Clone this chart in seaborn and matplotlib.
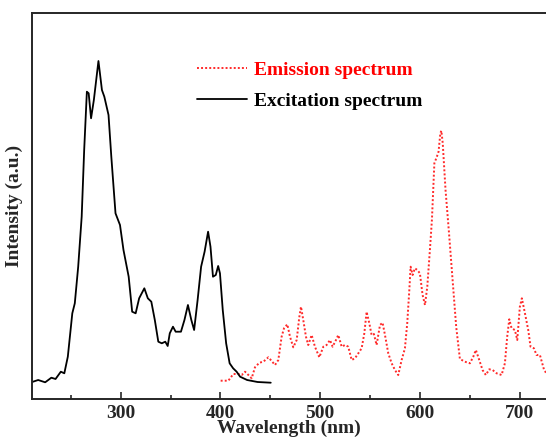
import numpy as np
import pandas as pd
import matplotlib
matplotlib.use("Agg")
import matplotlib.pyplot as plt
import seaborn as sns

sns.set_style("ticks")
plt.rcParams['font.family'] = ['Liberation Serif', 'DejaVu Serif']
plt.rcParams['font.weight'] = 'bold'

# Excitation spectrum (black, solid)
exc_wl = [210.3, 217.3, 224.3, 230.5, 234.7, 240.0, 243.5, 247.0, 251.5, 254.0,
          257.4, 260.9, 263.4, 266.1, 267.9, 270.3, 273.1, 277.7, 281.2, 283.6,
          287.8, 290.6, 294.8, 299.3, 302.8, 308.0, 311.5, 315.0, 318.5, 323.7,
          327.2, 330.7, 334.2, 337.7, 341.2, 344.7, 347.1, 349.2, 352.4, 355.1,
          360.4, 363.9, 367.4, 370.8, 373.6, 377.1, 380.6, 384.1, 387.6, 390.0,
          392.5, 395.3, 397.7, 399.5, 402.3, 405.7, 409.2, 412.7, 416.2, 419.7,
          426.7, 437.2, 450.4]
exc_int = [16.7, 19.0, 16.7, 21.3, 20.0, 27.3, 25.7, 42.3, 85.7, 95.7,
           132.3, 182.3, 249.0, 307.3, 305.7, 280.7, 299.0, 338.0, 309.0, 302.3,
           284.0, 242.3, 185.7, 174.0, 149.0, 122.3, 87.3, 85.7, 100.7, 110.7,
           100.7, 97.3, 79.0, 57.3, 55.7, 57.3, 53.0, 65.7, 72.3, 67.3,
           67.3, 79.0, 94.0, 79.0, 69.0, 99.0, 132.3, 147.3, 167.3, 152.3,
           122.3, 124.0, 133.0, 125.7, 89.0, 55.7, 35.7, 30.7, 27.3, 22.3,
           19.0, 17.0, 16.3]

# Emission spectrum (red, dotted)
emi_wl = [400.2, 407.9, 412.9, 417.9, 421.3, 424.6, 428.0, 431.3, 434.6, 439.0,
          443.0, 448.0, 451.3, 454.7, 458.0, 461.3, 463.7, 467.0, 469.7, 473.0,
          476.4, 479.0, 480.7, 483.0, 485.7, 488.0, 491.4, 494.7, 499.1, 503.1,
          506.4, 509.8, 512.4, 515.8, 518.1, 521.5, 524.8, 528.1, 531.5, 534.8,
          538.2, 541.5, 544.2, 546.5, 549.2, 551.5, 553.8, 556.5, 559.9, 562.5,
          564.9, 568.2, 571.6, 574.9, 578.2, 581.6, 584.9, 587.2, 589.3, 590.6,
          592.6, 594.9, 597.3, 599.9, 602.6, 605.0, 607.3, 610.0, 612.0, 614.4,
          616.9, 618.6, 620.4, 621.4, 622.8, 625.6, 629.1, 632.6, 636.3, 640.0,
          645.0, 650.0, 653.4, 656.0, 659.4, 662.7, 666.0, 669.4, 672.8, 676.8,
          681.8, 685.1, 687.4, 689.5, 691.8, 695.1, 697.5, 700.1, 702.1, 705.2,
          708.5, 710.8, 714.2, 716.8, 720.2, 724.2, 727.0]
emi_int = [18.3, 18.3, 25.0, 25.0, 24.0, 27.3, 24.0, 20.7, 31.7, 36.3,
           37.3, 41.7, 38.0, 34.0, 39.0, 62.3, 70.7, 74.7, 62.3, 51.7,
           59.0, 81.7, 92.3, 79.0, 62.3, 54.0, 64.0, 52.3, 41.7, 52.3,
           54.0, 59.0, 52.3, 59.0, 64.0, 52.3, 54.0, 52.3, 39.0, 40.7,
           45.7, 50.7, 65.7, 87.3, 75.7, 64.0, 65.0, 54.0, 74.0, 76.3,
           64.0, 45.7, 35.7, 29.0, 24.0, 39.0, 50.7, 75.7, 109.0, 132.3,
           124.0, 130.7, 129.0, 125.7, 104.0, 94.0, 112.3, 150.0, 180.0, 235.7,
           242.3, 247.3, 265.7, 268.3, 255.7, 209.0, 165.7, 120.0, 72.0, 40.0,
           37.3, 35.7, 42.3, 49.0, 39.0, 29.0, 24.0, 29.7, 29.0, 25.7,
           24.0, 35.7, 62.3, 79.7, 70.7, 69.0, 59.0, 92.3, 100.7, 85.7,
           69.0, 52.3, 50.7, 44.0, 44.0, 29.7, 25.0]

series_labels = ["Emission spectrum", "Excitation spectrum"]
xticks = [300, 400, 500, 600, 700]

df_exc = pd.DataFrame({"wl": exc_wl, "I": exc_int})
df_emi = pd.DataFrame({"wl": emi_wl, "I": emi_int})

fig = plt.figure(figsize=(5.46, 4.41), dpi=100)
ax = fig.add_axes([31.7 / 546, 42 / 441, 1 - 31.7 / 546, 386.3 / 441])

sns.lineplot(data=df_emi, x="wl", y="I", ax=ax, color="#ff2a2a",
             linestyle=(0, (1, 1.1)), linewidth=1.4, estimator=None, sort=False,
             label=series_labels[0])
sns.lineplot(data=df_exc, x="wl", y="I", ax=ax, color="black",
             linewidth=1.3, estimator=None, sort=False,
             label=series_labels[1])

ax.set_xlim(210.8, 726.3)
ax.set_ylim(0, 386.3)
ax.set_xticks(xticks)
ax.set_xticks(np.arange(250, 726, 100), minor=True)
ax.set_yticks([])
ax.tick_params(axis='x', which='major', direction='in', length=5, width=1.2,
               labelsize=14, pad=4)
ax.tick_params(axis='x', which='minor', direction='in', length=3, width=1.2)
for lbl in ax.get_xticklabels():
    lbl.set_fontweight('bold')
ax.spines['right'].set_visible(False)
for s in ['left', 'bottom', 'top']:
    ax.spines[s].set_linewidth(1.4)

ax.set_xlabel("Wavelength (nm)", fontsize=14, fontweight='bold', labelpad=-1)
ax.set_ylabel("Intensity (a.u.)", fontsize=14, fontweight='bold', labelpad=6)

leg = ax.legend(loc='upper left', bbox_to_anchor=((196.7 - 31.7) / 514.3, (399 - 61) / 386.3),
                frameon=False, fontsize=14, handlelength=2.6, handletextpad=0.35,
                labelspacing=0.72, borderpad=0, borderaxespad=0)
for txt, col in zip(leg.get_texts(), ["#ff0000", "black"]):
    txt.set_color(col)
    txt.set_fontweight('bold')

fig.savefig("out.png", dpi=100)
